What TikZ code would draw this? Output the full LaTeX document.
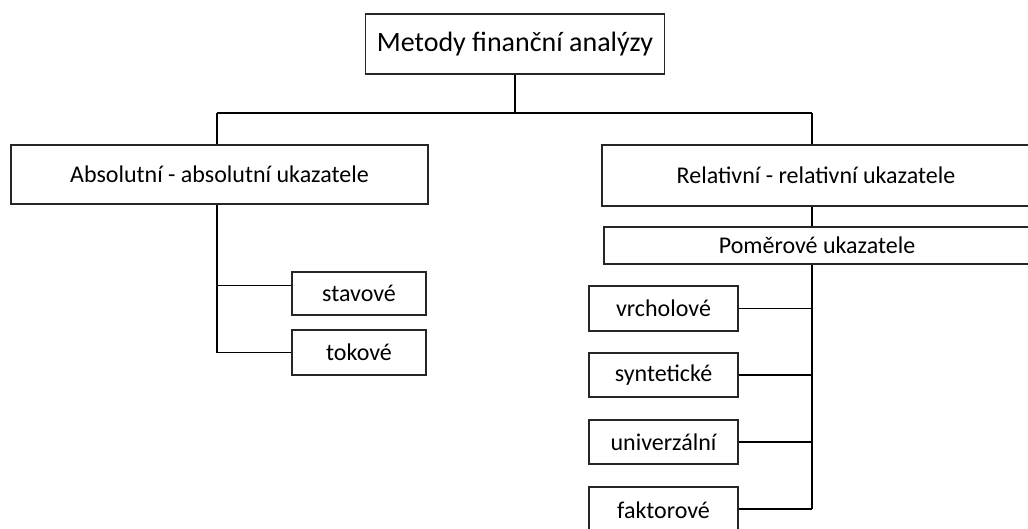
\documentclass[tikz,border=0pt]{standalone}
\usepackage{fontspec}
\setmainfont{Carlito}
\usepackage{xcolor}
\usepackage{tikz}

\tikzset{
  box/.style={draw=black!85, line width=1.8pt, fill=white, inner sep=0pt,
    font=\fontsize{24}{28}\selectfont},
  link/.style={draw=black, line width=1.8pt}
}

\begin{document}
\begin{tikzpicture}[x=1pt, y=-1pt]
        \useasboundingbox (0,0) rectangle (1028,528);

        % Top box
        \node[box, minimum width=299pt, minimum height=60pt,
          font=\fontsize{28}{32}\selectfont] (top) at (515,44) {Metody finanční analýzy};

        % Second level
        \node[box, minimum width=417pt, minimum height=59pt] (abs) at (219.5,174.5) {Absolutní - absolutní ukazatele};
        \node[box, minimum width=428pt, minimum height=61pt] (rel) at (816,175.5) {Relativní - relativní ukazatele};
        \node[box, minimum width=426pt, minimum height=37pt] (pom) at (817,245.5) {Poměrové ukazatele};

        % Absolute indicators
        \node[box, minimum width=134pt, minimum height=43pt] (stav) at (359,293.5) {stavové};
        \node[box, minimum width=134pt, minimum height=45pt] (tok) at (359,352.5) {tokové};

        % Ratio indicators
        \node[box, minimum width=149pt, minimum height=45pt] (vrch) at (663.5,308.5) {vrcholové};
        \node[box, minimum width=149pt, minimum height=44pt] (synt) at (663.5,375) {syntetické};
        \node[box, minimum width=149pt, minimum height=44pt] (univ) at (663.5,442) {univerzální};
        \node[box, minimum width=149pt, minimum height=46pt] (fakt) at (663.5,510) {faktorové};

        % Trunks
        \coordinate (bus) at (515,113);
        \coordinate (ltrunk) at (217,113);
        \coordinate (rtrunk) at (812,113);

        \draw[link] (top.south) -- (bus);
        \draw[link] (ltrunk) -- (rtrunk);
        \draw[link] (ltrunk) -- (ltrunk |- abs.north);
        \draw[link] (rtrunk) -- (rtrunk |- rel.north);

        % Left branch
        \draw[link] (ltrunk |- abs.south) |- (tok.west);
        \draw[link] ([yshift=8pt]stav.west) -- ([yshift=8pt]stav.west -| ltrunk);

        % Right branch
        \draw[link] (rtrunk |- rel.south) -- (rtrunk |- pom.north);
        \draw[link] (rtrunk |- pom.south) -- ([yshift=1pt]rtrunk |- fakt.east);
        \foreach \n in {vrch,synt,univ} {
            \draw[link] (\n.east) -- (\n.east -| rtrunk);
        }
        \draw[link] ([yshift=1pt]fakt.east) -- ([yshift=1pt]fakt.east -| rtrunk);
    \end{tikzpicture}
\end{document}
